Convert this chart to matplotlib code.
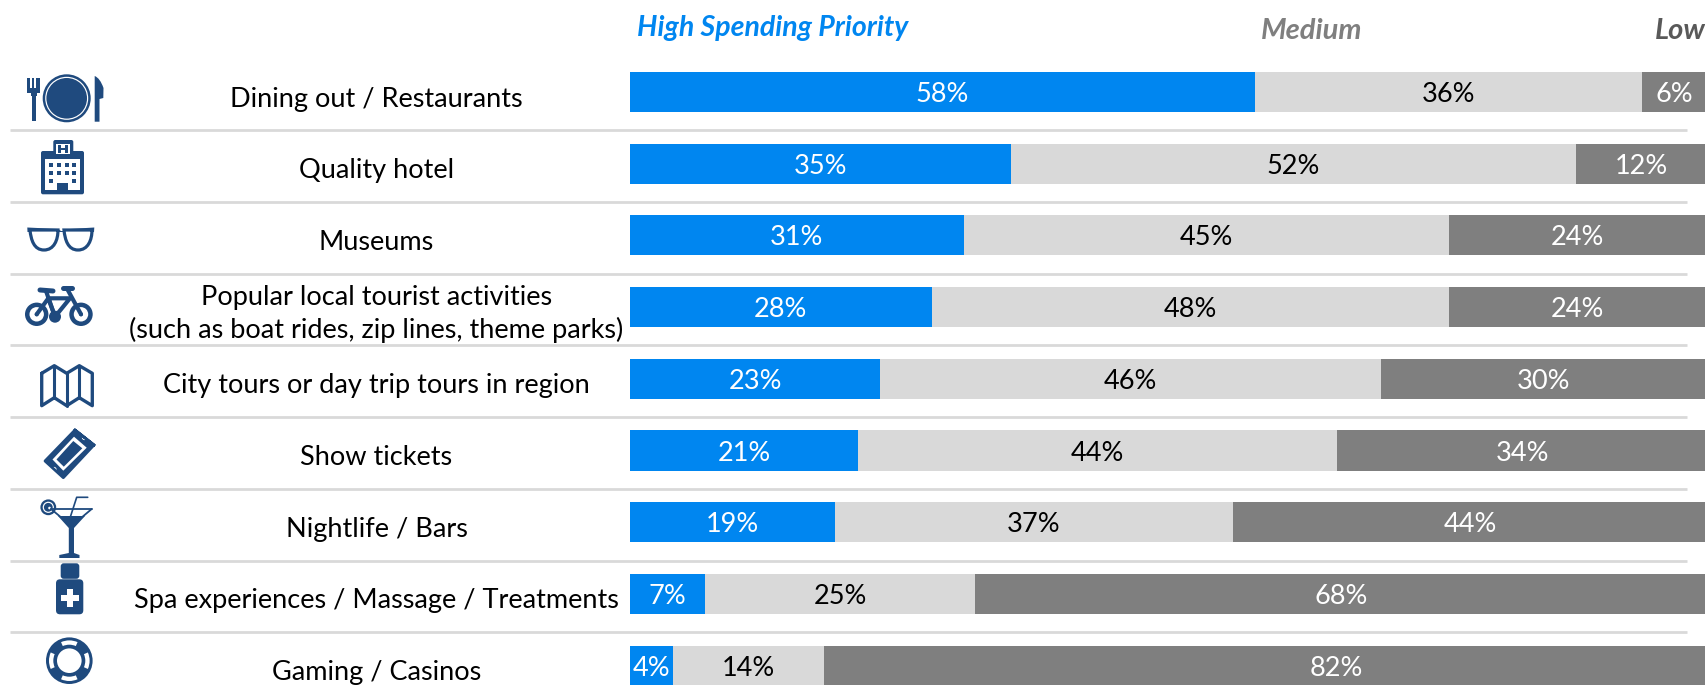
import matplotlib
matplotlib.use("Agg")
import matplotlib.pyplot as plt
from matplotlib.patches import Circle, Polygon, Rectangle, FancyBboxPatch, Wedge, PathPatch
from matplotlib.path import Path

plt.rcParams['font.family'] = ['Lato', 'DejaVu Sans']

categories = [
    "Dining out / Restaurants",
    "Quality hotel",
    "Museums",
    "Popular local tourist activities\n(such as boat rides, zip lines, theme parks)",
    "City tours or day trip tours in region",
    "Show tickets",
    "Nightlife / Bars",
    "Spa experiences / Massage / Treatments",
    "Gaming / Casinos",
]
high = [58, 35, 31, 28, 23, 21, 19, 7, 4]
medium = [36, 52, 45, 48, 46, 44, 37, 25, 14]
low = [6, 12, 24, 24, 30, 34, 44, 68, 82]

BLUE = '#0086F0'
LIGHT = '#D9D9D9'
DARK = '#7F7F7F'
NAVY = '#1F4A7E'

W, H = 1706, 685
ROW_TOP = 92.0
ROW_STEP = 71.7

fig = plt.figure(figsize=(W / 100, H / 100), dpi=100, facecolor='white')

# stacked bars, every row scaled to 100 (the rounded labels don't always add up)
ax = fig.add_axes([630 / W, 0, 1077 / W, 1])
ax.set_xlim(0, 100)
ax.set_ylim((H - ROW_TOP) / ROW_STEP, -ROW_TOP / ROW_STEP)
ax.axis('off')

for i in range(len(categories)):
    total = high[i] + medium[i] + low[i]
    left = 0
    for val, col, tc in [(high[i], BLUE, 'white'), (medium[i], LIGHT, 'black'), (low[i], DARK, 'white')]:
        w = val / total * 100
        ax.barh(i, w, left=left, height=0.558, color=col, linewidth=0)
        # the 82% label sits off centre, over the same spot as 68%
        cx = left + w / 2
        if val == 82:
            cx += 6.6
        ax.text(cx, i + 0.035, f"{val}%", color=tc, fontsize=19.5, ha='center', va='center')
        left += w

# pixel-based layer for row labels, rules and icons
ov = fig.add_axes([0, 0, 1, 1])
ov.set_xlim(0, W)
ov.set_ylim(H, 0)
ov.axis('off')
ov.patch.set_alpha(0)

for i, name in enumerate(categories):
    y = ROW_TOP + i * ROW_STEP
    ov.text(376.5, y + 7, name, fontsize=19.5, color='black', ha='center', va='center', linespacing=1.35)
    if i < len(categories) - 1:
        ov.plot([10, 1687], [y + 38.3, y + 38.3], color=LIGHT, lw=2.0, solid_capstyle='butt')

ov.text(637, 28, "High Spending Priority", color=BLUE, fontsize=20.5, fontweight='bold', fontstyle='italic', va='center')
ov.text(1261, 30.5, "Medium", color=DARK, fontsize=21, fontweight='bold', fontstyle='italic', va='center')
ov.text(1655, 30.5, "Low", color='#595959', fontsize=21, fontweight='bold', fontstyle='italic', va='center')


def poly(pts, fc=NAVY, **kw):
    ov.add_patch(Polygon(pts, closed=True, fc=fc, ec='none', **kw))


def line(pts, lw=2.0, color=NAVY, cap='round'):
    xs, ys = zip(*pts)
    ov.plot(xs, ys, color=color, lw=lw, solid_capstyle=cap, solid_joinstyle='round')


def disc(x, y, r, fc=NAVY):
    ov.add_patch(Circle((x, y), r, fc=fc, ec='none'))


def box(x0, y0, x1, y1, fc=NAVY):
    ov.add_patch(Rectangle((x0, y0), x1 - x0, y1 - y0, fc=fc, ec='none'))


def rbox(x0, y0, x1, y1, r=2, fc=NAVY):
    ov.add_patch(FancyBboxPatch((x0 + r, y0 + r), x1 - x0 - 2 * r, y1 - y0 - 2 * r,
                                boxstyle=f"round,pad={r},rounding_size={r}", fc=fc, ec='none'))


# plate, fork, knife
disc(66.7, 98.3, 24)
disc(66.7, 98.3, 21.5, 'white')
disc(66.7, 98.3, 20.3)
for x in [27.3, 31.6, 35.9]:
    box(x, 78, x + 2.4 if x != 35.9 else 40, 93)
box(31, 90, 37.5, 96)
box(27.3, 88, 40, 93)
box(32, 92, 36, 121)
ov.add_patch(PathPatch(Path(
    [(94.7, 76), (100, 78), (103.5, 88), (103.3, 98), (99.5, 99), (99.5, 121.7), (94.7, 121.7), (94.7, 76)],
    [Path.MOVETO, Path.CURVE3, Path.CURVE3, Path.LINETO, Path.LINETO, Path.LINETO, Path.LINETO, Path.CLOSEPOLY]),
    fc=NAVY, ec='none'))

# hotel
rbox(41, 151, 84, 194.3, 2)
rbox(53.3, 140, 73.3, 160, 2)
box(45, 158.5, 80, 190, 'white')
box(56.5, 143.5, 70, 154, 'white')
box(58.5, 145, 60.8, 153)
box(65.5, 145, 67.8, 153)
box(58.5, 148, 67.8, 150)
box(53, 154, 73.5, 158.5)
for wy, cols in [(165, [51, 59, 66.7, 74.3]), (173.3, [51, 59, 66.7, 74.3]), (180.7, [51, 74.3])]:
    for wx in cols:
        box(wx - 1.9, wy - 1.9, wx + 1.9, wy + 1.9)
box(57.3, 183.3, 68.3, 191)

# glasses
poly([(27.3, 227.5), (58, 229), (61, 231), (66, 231), (70, 229), (94.3, 227.5), (94, 232), (27.5, 232)])
for x0, x1 in [(30, 58), (64, 92)]:
    ov.add_patch(PathPatch(Path(
        [(x0, 230), (x1, 230), (x1, 240), (x1 - 4, 250), (x0 + 14, 250), (x0 + 4, 250), (x0 + 1, 240), (x0, 230), (x0, 230)],
        [Path.MOVETO, Path.LINETO, Path.CURVE4, Path.CURVE4, Path.CURVE4, Path.CURVE4, Path.CURVE4, Path.CURVE4, Path.CLOSEPOLY]),
        fc='white', ec=NAVY, lw=2.3))

# bicycle
for cx in [36.7, 81]:
    disc(cx, 314.3, 11.7)
    disc(cx, 314.3, 7.2, 'white')
    disc(cx, 314.3, 2)
line([(36.7, 314.3), (48.3, 298.3), (55, 316.7), (70, 298.3), (48.3, 298.3)], lw=3.0)
line([(46, 291), (55, 316.7)], lw=3.0)
line([(66.7, 288), (81, 314.3)], lw=3.0)
line([(40, 290), (53, 291)], lw=3.6)
line([(63, 287.7), (72, 287.7)], lw=3.6)
disc(55, 316.7, 6)

# folded map
mx = [41.7, 54.3, 66.7, 79.3, 92.3]
line([(mx[0], 373.3), (mx[1], 365.7), (mx[2], 373.3), (mx[3], 365.7), (mx[4], 373.3), (mx[4], 405.7),
      (mx[3], 397.7), (mx[2], 405.7), (mx[1], 397.7), (mx[0], 405.7), (mx[0], 373.3)], lw=2.4)
line([(mx[1], 365.7), (mx[1], 397.7)], lw=2.2)
line([(mx[2], 373.3), (mx[2], 405.7)], lw=2.2)
line([(mx[3], 365.7), (mx[3], 397.7)], lw=2.2)

# ticket
tk = [(75, 430), (94, 445), (63.3, 477.7), (45, 461)]
ov.plot(*zip(*(tk + tk[:2])), color=NAVY, lw=2, solid_joinstyle='round')
poly(tk)
poly([(74, 436.7), (86.7, 447.7), (63.3, 470.7), (52.5, 459.5)], 'white')
poly([(73.3, 441), (82.3, 448.3), (63.8, 466.7), (56.5, 459.5)])
disc(84.5, 437.5, 2.6, 'white')
disc(54, 469.5, 2.6, 'white')

# cocktail
disc(48.3, 507.3, 7.9)
disc(48.3, 507.3, 5.6, 'white')
disc(48.3, 507.3, 4.4)
disc(49.5, 508, 1.3, 'white')
line([(51, 509), (91.7, 509)], lw=1.3)
line([(51, 509), (71.5, 526)], lw=1.3)
line([(91.7, 509), (71.5, 526)], lw=1.3)
poly([(58, 516), (85, 516), (74, 528), (74, 553), (68.8, 553), (68.8, 528)])
line([(70, 518), (76.7, 497.3), (87.7, 497.3)], lw=1.2)
poly([(68.8, 553), (74, 553), (79.5, 555), (79.5, 558), (59.3, 558), (59.3, 555)])

# bottle
ov.add_patch(FancyBboxPatch((63.7, 566.3), 12.6, 9.5, boxstyle="round,pad=3,rounding_size=3", fc=NAVY, ec='none'))
rbox(56, 579.3, 83.3, 614.3, 4)
box(61, 595.3, 79, 601.3, 'white')
box(67, 589.3, 73, 607.3, 'white')

# life ring
disc(69.3, 660.7, 23.3)
for ang in [0, 90, 180, 270]:
    ov.add_patch(Wedge((69.3, 660.7), 20.3, ang - 24, ang + 24, width=4.3, fc='white', ec='none'))
disc(69.3, 660.7, 12.3, 'white')

fig.savefig("out.png", dpi=100)
